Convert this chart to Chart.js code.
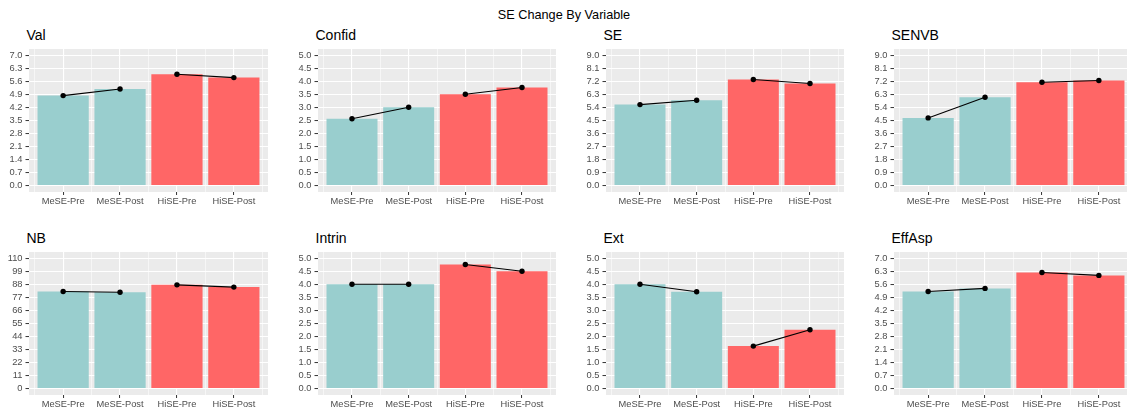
<!DOCTYPE html>
<html lang="en">
<head>
<meta charset="UTF-8">
<title>SE Change By Variable</title>
<script src="https://cdn.jsdelivr.net/npm/chart.js"></script>
<style>
  html, body { margin: 0; padding: 0; background: #fff; }
  body { width: 1127px; height: 411px; position: relative; overflow: hidden; font-family: "Liberation Sans", Arial, sans-serif; }
  .main-title { position: absolute; left: 0; width: 1128px; top: 9px; text-align: center; font-size: 12.7px; line-height: 13px; color: #000; }
  .panel-title { position: absolute; font-size: 14px; line-height: 14px; color: #000; white-space: nowrap; }
  canvas { position: absolute; }
</style>
</head>
<body>
<div class="main-title">SE Change By Variable</div>
<script>
// data
const categories = ['MeSE-Pre', 'MeSE-Post', 'HiSE-Pre', 'HiSE-Post'];
const panelNames = ['Val', 'Confid', 'SE', 'SENVB', 'NB', 'Intrin', 'Ext', 'EffAsp'];
const axisMax = [7, 5, 9, 9, 110, 5, 5, 7];
const axisStep = [0.7, 0.5, 0.9, 0.9, 11, 0.5, 0.5, 0.7];

const valValues    = [4.84, 5.20, 5.99, 5.81];
const confidValues = [2.57, 3.01, 3.51, 3.77];
const seValues     = [5.60, 5.90, 7.34, 7.06];
const senvbValues  = [4.68, 6.11, 7.15, 7.27];
const nbValues     = [82.1, 81.5, 87.7, 85.8];
const intrinValues = [4.01, 4.01, 4.77, 4.51];
const extValues    = [4.01, 3.72, 1.63, 2.26];
const effAspValues = [5.22, 5.39, 6.25, 6.09];

const panelValues = [valValues, confidValues, seValues, senvbValues, nbValues, intrinValues, extValues, effAspValues];
const barColors = ['#99CECE', '#99CECE', '#FF6666', '#FF6666'];

// layout
const colLeft = [29, 318, 606, 894];
const colWidth = [239, 238, 238, 239];
const rowTop = [49, 252];
const PH = 143;      // panel height
const AXW = 32;      // y axis width
const AXH = 20;      // x axis height
const FONT = '"Liberation Sans", Arial, sans-serif';

const panelBg = {
    id: 'panelBg',
    beforeDraw(chart) {
        const { ctx, chartArea: a } = chart;
        ctx.save();
        ctx.fillStyle = '#EBEBEB';
        ctx.fillRect(a.left, a.top, a.right - a.left, a.bottom - a.top);
        ctx.restore();
    }
};

const gridWidth = c => (c.tick && c.tick.isMajor) ? 1.1 : 0.55;
const tickCol = c => (c.tick && c.tick.isMajor) ? '#333333' : 'rgba(0,0,0,0)';

function makePanel(i) {
    const col = i % 4, row = Math.floor(i / 4);
    const vals = panelValues[i];
    const max = axisMax[i], step = axisStep[i];

    const title = document.createElement('div');
    title.className = 'panel-title';
    title.textContent = panelNames[i];
    title.style.left = (colLeft[col] - 2.5) + 'px';
    title.style.top = (row === 0 ? 28 : 231) + 'px';
    document.body.appendChild(title);

    const cv = document.createElement('canvas');
    const cw = colWidth[col] + AXW, ch = PH + AXH;
    cv.width = cw; cv.height = ch;
    cv.style.left = (colLeft[col] - AXW) + 'px';
    cv.style.top = rowTop[row] + 'px';
    cv.style.width = cw + 'px';
    cv.style.height = ch + 'px';
    document.body.appendChild(cv);

    const lineStyle = {
        type: 'line', borderColor: '#000', borderWidth: 1.1,
        pointRadius: 2.7, pointBackgroundColor: '#000', pointBorderWidth: 0,
        order: 0
    };

    new Chart(cv.getContext('2d'), {
        type: 'bar',
        data: {
            datasets: [
                Object.assign({ data: [{ x: 1, y: vals[0] }, { x: 2, y: vals[1] }] }, lineStyle),
                Object.assign({ data: [{ x: 3, y: vals[2] }, { x: 4, y: vals[3] }] }, lineStyle),
                {
                    type: 'bar',
                    data: categories.map((c, k) => ({ x: k + 1, y: vals[k] })),
                    backgroundColor: barColors,
                    borderWidth: 0,
                    // the ruler uses the half-unit grid ticks, so 2 x 0.5 unit = one category
                    barPercentage: 0.9,
                    categoryPercentage: 2,
                    order: 1
                }
            ]
        },
        options: {
            responsive: false,
            animation: false,
            devicePixelRatio: 1,
            layout: { padding: 0, autoPadding: false },
            plugins: { legend: { display: false }, tooltip: { enabled: false }, title: { display: false } },
            scales: {
                x: {
                    type: 'linear', min: 0.4, max: 4.6, offset: false, bounds: 'data',
                    afterBuildTicks: s => {
                        const t = [];
                        for (let k = 1; k <= 9; k++) t.push({ value: k / 2, isMajor: k % 2 === 0 });
                        s.ticks = t;
                    },
                    afterFit: s => { s.height = AXH; s.paddingLeft = 0; s.paddingRight = 0; },
                    grid: { color: '#FFFFFF', lineWidth: gridWidth, tickColor: tickCol, tickWidth: 1, tickLength: 3, drawTicks: true, offset: false },
                    border: { display: false },
                    ticks: {
                        autoSkip: false, maxRotation: 0, minRotation: 0, padding: 1,
                        color: '#4D4D4D', font: { family: FONT, size: 9.3 },
                        callback: v => Number.isInteger(v) ? categories[v - 1] : ''
                    }
                },
                y: {
                    type: 'linear', min: -0.05 * max, max: 1.05 * max, bounds: 'data',
                    afterBuildTicks: s => {
                        const t = [];
                        for (let k = 0; k <= 20; k++) t.push({ value: Math.round(k * step / 2 * 1000) / 1000, isMajor: k % 2 === 0 });
                        s.ticks = t;
                    },
                    afterFit: s => { s.width = AXW; s.paddingTop = 0; s.paddingBottom = 0; },
                    grid: { color: '#FFFFFF', lineWidth: gridWidth, tickColor: tickCol, tickWidth: 1, tickLength: 3.5, drawTicks: true },
                    border: { display: false },
                    ticks: {
                        padding: 3, color: '#4D4D4D', font: { family: FONT, size: 9.3 },
                        callback: (v, idx) => {
                            if (idx % 2 !== 0) return '';
                            return Number.isInteger(step) ? String(Math.round(v)) : v.toFixed(1);
                        }
                    }
                }
            }
        },
        plugins: [panelBg]
    });
}

for (let i = 0; i < panelNames.length; i++) makePanel(i);
</script>
</body>
</html>
